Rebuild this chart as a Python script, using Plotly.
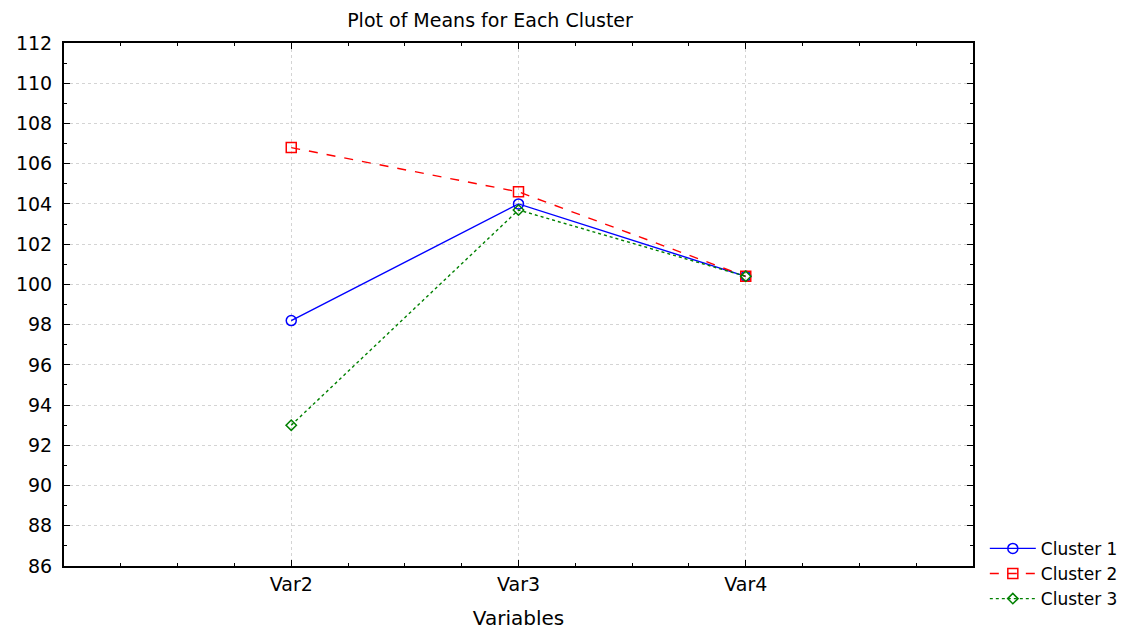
import plotly.graph_objects as go

categories = ["Var2", "Var3", "Var4"]
cluster1 = [98.2, 104.0, 100.4]
cluster2 = [106.8, 104.6, 100.4]
cluster3 = [93.0, 103.7, 100.4]
series_names = ["Cluster 1", "Cluster 2", "Cluster 3"]

x = list(range(len(categories)))

fig = go.Figure()
styles = [
    dict(color="#0000ff", dash="solid", symbol="circle-open", size=10),
    dict(color="#ff0000", dash="dash", symbol="square-open", size=10),
    dict(color="#008000", dash="dot", symbol="diamond-open", size=8),
]
for name, vals, st in zip(series_names, [cluster1, cluster2, cluster3], styles):
    fig.add_trace(go.Scatter(
        x=x, y=vals, name=name, mode="lines+markers",
        line=dict(color=st["color"], dash=st["dash"], width=1.4),
        marker=dict(symbol=st["symbol"], size=st["size"], color=st["color"],
                    line=dict(width=1.5, color=st["color"])),
    ))

font = "DejaVu Sans, Arial, sans-serif"
fig.update_layout(
    width=1147, height=630,
    margin=dict(l=64, r=174, t=43, b=64),
    paper_bgcolor="white", plot_bgcolor="white",
    font=dict(family=font, color="black"),
    title=dict(text="Plot of Means for Each Cluster", x=490 / 1147, xanchor="center",
               y=1 - 20 / 630, yanchor="middle", font=dict(size=19, family=font)),
    showlegend=True,
    legend=dict(x=1.013, y=-0.015, xanchor="left", yanchor="middle",
                font=dict(size=17, family=font), bgcolor="rgba(0,0,0,0)",
                tracegroupgap=0, itemwidth=46),
)
fig.update_xaxes(
    range=[-1, 3], tickmode="array", tickvals=x, ticktext=categories,
    showline=True, linecolor="black", linewidth=2, mirror="ticks",
    ticks="inside", ticklen=6, tickcolor="black", tickwidth=1,
    showgrid=True, gridcolor="#d4d4d4", griddash="dot", gridwidth=1,
    zeroline=False, ticklabelstandoff=0, automargin=False,
    tickfont=dict(size=19, family=font),
    title=dict(text="Variables", font=dict(size=20, family=font), standoff=18),
    minor=dict(tickmode="linear", tick0=-1, dtick=0.25, ticks="inside", ticklen=3,
               tickcolor="black", showgrid=False),
)
fig.update_yaxes(
    range=[86, 112], tickmode="linear", tick0=86, dtick=2,
    showline=True, linecolor="black", linewidth=2, mirror="ticks",
    ticks="inside", ticklen=6, tickcolor="black", tickwidth=1,
    showgrid=True, gridcolor="#d4d4d4", griddash="dot", gridwidth=1,
    zeroline=False, ticklabelstandoff=6, automargin=False,
    tickfont=dict(size=19, family=font),
    minor=dict(tickmode="linear", tick0=86, dtick=1, ticks="inside", ticklen=3,
               tickcolor="black", showgrid=False),
)
fig.write_html("out.html", config={"displayModeBar": False},
               post_script="document.body.style.margin='0';")
